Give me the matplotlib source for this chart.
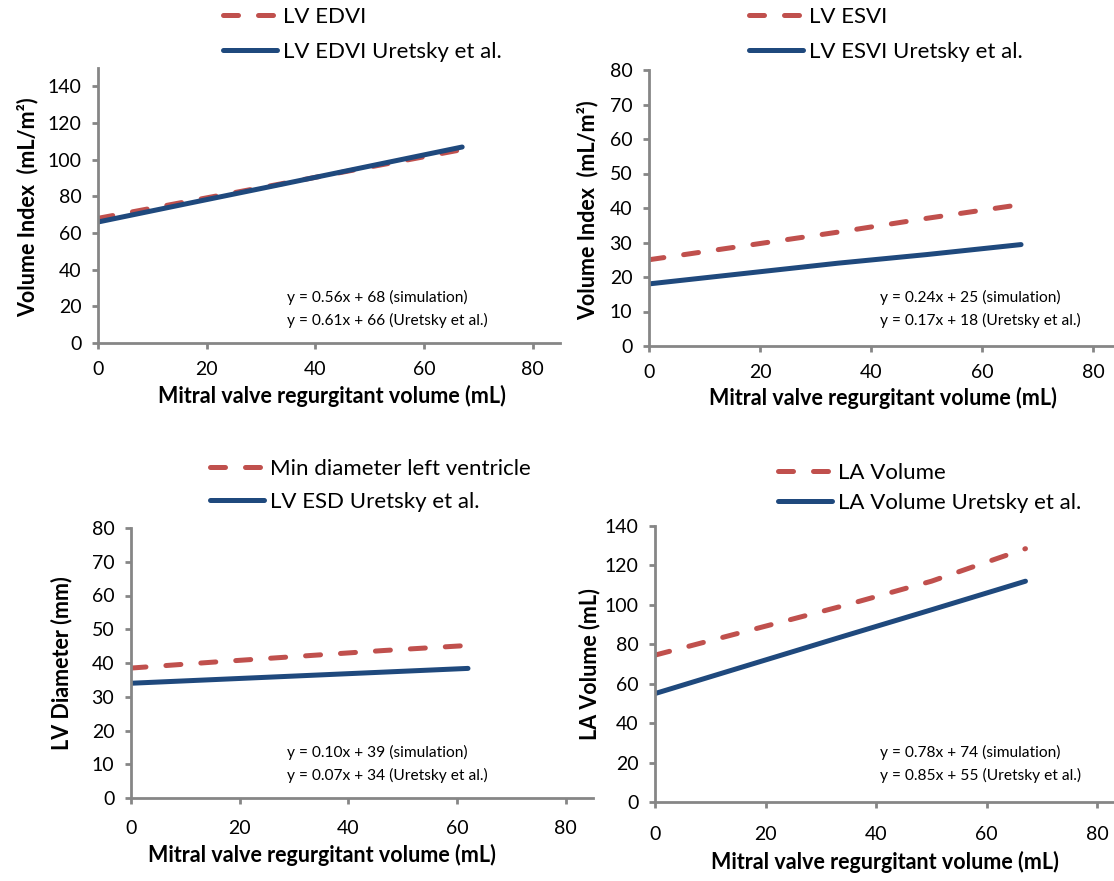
import matplotlib
matplotlib.use("Agg")
import matplotlib.pyplot as plt

plt.rcParams['font.family'] = ['Lato', 'DejaVu Sans']

W, H = 1114, 881

# regurgitant volume (mL)
mr_vol = [0, 17, 34, 50, 67]
mr_vol_diam = [0, 15.5, 31, 46.5, 62]

edvi_sim = [68, 77.5, 87, 96, 105.5]
edvi_ur = [66, 76.4, 86.7, 96.5, 106.9]
esvi_sim = [25, 29, 33, 37, 41]
esvi_ur = [18, 21, 24, 26.5, 29.4]
diam_sim = [38.5, 40.3, 42, 43.7, 45.2]
diam_ur = [34, 35.1, 36.2, 37.3, 38.4]
la_sim = [74.5, 87, 99.5, 112, 128.5]
la_ur = [55, 69.5, 84, 97.5, 112]

xticks = [0, 20, 40, 60, 80]

red = '#C0504D'
blue = '#1F497D'
grey = '#868686'

panels = [
    dict(rect=(98, 343, 560, 68), x=mr_vol, sim=edvi_sim, ur=edvi_ur,
         names=['LV EDVI', 'LV EDVI Uretsky et al.'],
         ylabel='Volume Index  (mL/m²)', ylim=150, yticks=range(0, 141, 20),
         eq=['y = 0.56x + 68 (simulation)', 'y = 0.61x + 66 (Uretsky et al.)'],
         leg=(223, 7, 37), eqpos=(287, 297), ylab=(28, 207), xlab=(332, 396),
         xpad=9),
    dict(rect=(649, 346, 1121, 70), x=mr_vol, sim=esvi_sim, ur=esvi_ur,
         names=['LV ESVI', 'LV ESVI Uretsky et al.'],
         ylabel='Volume Index  (mL/m²)', ylim=80, yticks=range(0, 81, 10),
         eq=['y = 0.24x + 25 (simulation)', 'y = 0.17x + 18 (Uretsky et al.)'],
         leg=(749, 7, 37), eqpos=(880, 297), ylab=(588, 210), xlab=(883, 398),
         xpad=9),
    dict(rect=(131, 798, 593, 528), x=mr_vol_diam, sim=diam_sim, ur=diam_ur,
         names=['Min diameter left ventricle', 'LV ESD Uretsky et al.'],
         ylabel='LV Diameter (mm)', ylim=80, yticks=range(0, 81, 10),
         eq=['y = 0.10x + 39 (simulation)', 'y = 0.07x + 34 (Uretsky et al.)'],
         leg=(210, 459, 35), eqpos=(287, 752), ylab=(62, 663), xlab=(322, 855),
         xpad=12),
    dict(rect=(655, 802, 1125, 526), x=mr_vol, sim=la_sim, ur=la_ur,
         names=['LA Volume', 'LA Volume Uretsky et al.'],
         ylabel='LA Volume (mL)', ylim=140, yticks=range(0, 141, 20),
         eq=['y = 0.78x + 74 (simulation)', 'y = 0.85x + 55 (Uretsky et al.)'],
         leg=(778, 463, 32), eqpos=(880, 752), ylab=(590, 664), xlab=(885, 862),
         xpad=13),
]

fig = plt.figure(figsize=(W / 100, H / 100), dpi=100)

for p in panels:
    l, b, r, t = p['rect']
    ax = fig.add_axes([l / W, 1 - b / H, (r - l) / W, (b - t) / H])
    ax.set_xlim(0, 85)
    ax.set_ylim(0, p['ylim'])
    ln1, = ax.plot(p['x'], p['sim'], color=red, lw=3.6, dashes=(3, 4),
                   dash_capstyle='round', solid_capstyle='round')
    ln2, = ax.plot(p['x'], p['ur'], color=blue, lw=3.6, solid_capstyle='round')
    ax.set_xticks(xticks)
    ax.set_yticks(list(p['yticks']))
    for s in ['top', 'right']:
        ax.spines[s].set_visible(False)
    for s in ['left', 'bottom']:
        ax.spines[s].set_color(grey)
        ax.spines[s].set_linewidth(2)
    ax.tick_params(color=grey, width=2, length=4, labelsize=14,
                   labelcolor='black', pad=8)
    ax.tick_params(axis='x', pad=p['xpad'])
    ax.patch.set_alpha(0)

    lx, ly, sp = p['leg']
    ax.legend([ln1, ln2], p['names'], loc='upper left',
              bbox_to_anchor=(lx / W, 1 - ly / H), bbox_transform=fig.transFigure,
              frameon=False, fontsize=16, handlelength=2.45, handletextpad=0.25,
              labelspacing=(sp - 22) / 22, borderpad=0, borderaxespad=0)

    ex, ey = p['eqpos']
    fig.text(ex / W, 1 - ey / H, p['eq'][0], fontsize=11.2, va='center')
    fig.text(ex / W, 1 - (ey + 23) / H, p['eq'][1], fontsize=11.2, va='center')

    yx, yy = p['ylab']
    fig.text(yx / W, 1 - yy / H, p['ylabel'], rotation=90, fontsize=15.5,
             fontweight='bold', ha='center', va='center')
    xx, xy = p['xlab']
    fig.text(xx / W, 1 - xy / H, 'Mitral valve regurgitant volume (mL)',
             fontsize=15.5, fontweight='bold', ha='center', va='center')

fig.savefig('out.png', dpi=100)
